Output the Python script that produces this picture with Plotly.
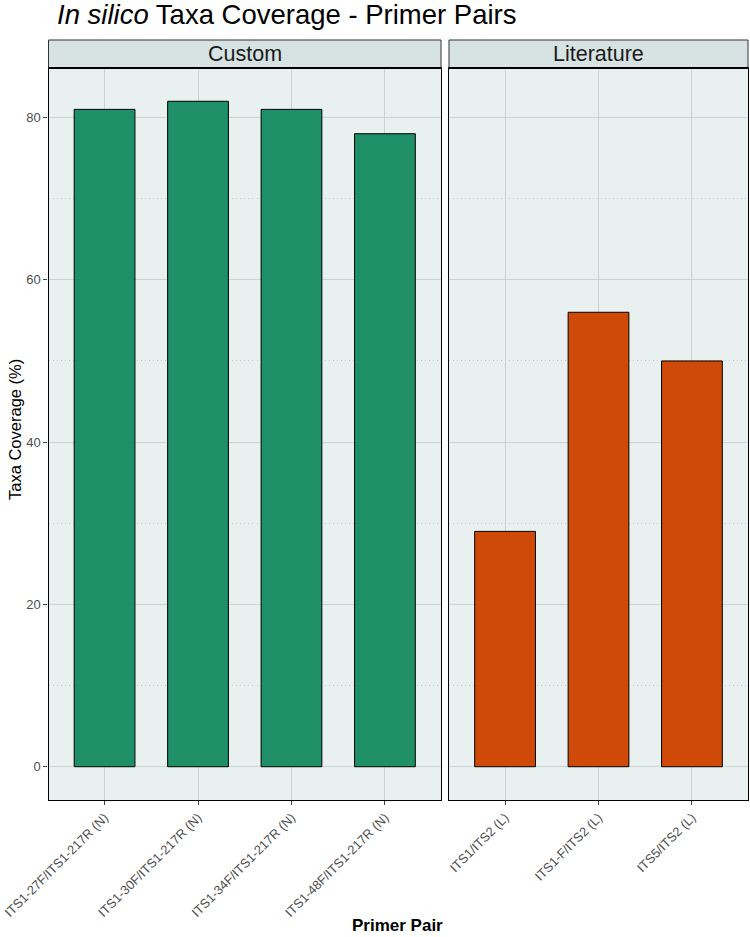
import plotly.graph_objects as go

custom_pairs = ["ITS1-27F/ITS1-217R (N)", "ITS1-30F/ITS1-217R (N)",
                "ITS1-34F/ITS1-217R (N)", "ITS1-48F/ITS1-217R (N)"]
custom_values = [81, 82, 81, 78]
lit_pairs = ["ITS1/ITS2 (L)", "ITS1-F/ITS2 (L)", "ITS5/ITS2 (L)"]
lit_values = [29, 56, 50]
y_ticks = [0, 20, 40, 60, 80]
facet_labels = ["Custom", "Literature"]

W, H = 750, 937
FONT = "Arial, Liberation Sans, sans-serif"
GREEN = "#1F8F67"
ORANGE = "#CF4A08"
PANEL_BG = "#E9F1F0"
STRIP_BG = "#D7E3E2"
GRID = "#CBD3D2"

def px(x):
    return x / W

def py(y):
    return 1 - y / H

x1 = [px(48.5), px(441)]
x2 = [px(449), px(748)]
ydom = [py(800), py(68)]

fig = go.Figure()
fig.add_trace(go.Bar(x=custom_pairs, y=custom_values, marker=dict(color=GREEN, line=dict(color="black", width=1)),
                     width=0.65, xaxis="x", yaxis="y", showlegend=False))
fig.add_trace(go.Bar(x=lit_pairs, y=lit_values, marker=dict(color=ORANGE, line=dict(color="black", width=1)),
                     width=0.65, xaxis="x2", yaxis="y2", showlegend=False))

common_x = dict(showgrid=True, gridcolor=GRID, gridwidth=1, showline=True, mirror=True,
                linecolor="black", linewidth=1.2, ticks="outside", ticklen=4, tickcolor="#444",
                tickangle=-45, tickfont=dict(family=FONT, size=12.8, color="#4D4D4D"), zeroline=False,
                automargin=False)
common_y = dict(range=[-4.1, 86.1], showgrid=True, gridcolor=GRID, gridwidth=1, showline=True, mirror=True,
                linecolor="black", linewidth=1.2, tickvals=y_ticks, zeroline=False, automargin=False,
                minor=dict(dtick=10, tick0=0, showgrid=True, gridcolor="#C4CCCB", griddash="1px,3px", gridwidth=1))

fig.update_layout(
    width=W, height=H, margin=dict(l=0, r=0, t=0, b=0, autoexpand=False),
    paper_bgcolor="white", plot_bgcolor=PANEL_BG, bargap=0.35,
    xaxis=dict(domain=x1, range=[-0.6, 3.6], anchor="y", **common_x),
    xaxis2=dict(domain=x2, range=[-0.6, 2.6], anchor="y2", **common_x),
    yaxis=dict(domain=ydom, anchor="x", ticks="outside", ticklen=4, tickcolor="#444",
               tickfont=dict(family=FONT, size=13, color="#4D4D4D"), **common_y),
    yaxis2=dict(domain=ydom, anchor="x2", showticklabels=False, ticks="", **common_y),
)

shapes = []
annotations = []
for dom, lab in zip([x1, x2], facet_labels):
    shapes.append(dict(type="rect", xref="paper", yref="paper", x0=dom[0], x1=dom[1],
                       y0=py(68), y1=py(40), fillcolor=STRIP_BG, line=dict(color="#333", width=1)))
    shapes.append(dict(type="line", xref="paper", yref="paper", x0=dom[0], x1=dom[1],
                       y0=py(68), y1=py(68), line=dict(color="black", width=2.2)))
    annotations.append(dict(text=lab, xref="paper", yref="paper", x=(dom[0] + dom[1]) / 2, y=py(54),
                            showarrow=False, xanchor="center", yanchor="middle",
                            font=dict(family=FONT, size=21.5, color="#1A1A1A")))

annotations.append(dict(text="<i>In silico</i> Taxa Coverage - Primer Pairs", xref="paper", yref="paper",
                        x=px(55), y=py(15), xanchor="left", yanchor="middle", showarrow=False,
                        font=dict(family=FONT, size=27.5, color="black")))
annotations.append(dict(text="Taxa Coverage (%)", xref="paper", yref="paper", x=px(15), y=py(430),
                        xanchor="center", yanchor="middle", textangle=-90, showarrow=False,
                        font=dict(family=FONT, size=16.5, color="black")))
annotations.append(dict(text="<b>Primer Pair</b>", xref="paper", yref="paper", x=px(398), y=py(925),
                        xanchor="center", yanchor="middle", showarrow=False,
                        font=dict(family=FONT, size=17, color="black")))

fig.update_layout(shapes=shapes, annotations=annotations)
fig.write_html("out.html", config={"displayModeBar": False},
               post_script="document.body.style.margin='0';document.body.style.padding='0';")
